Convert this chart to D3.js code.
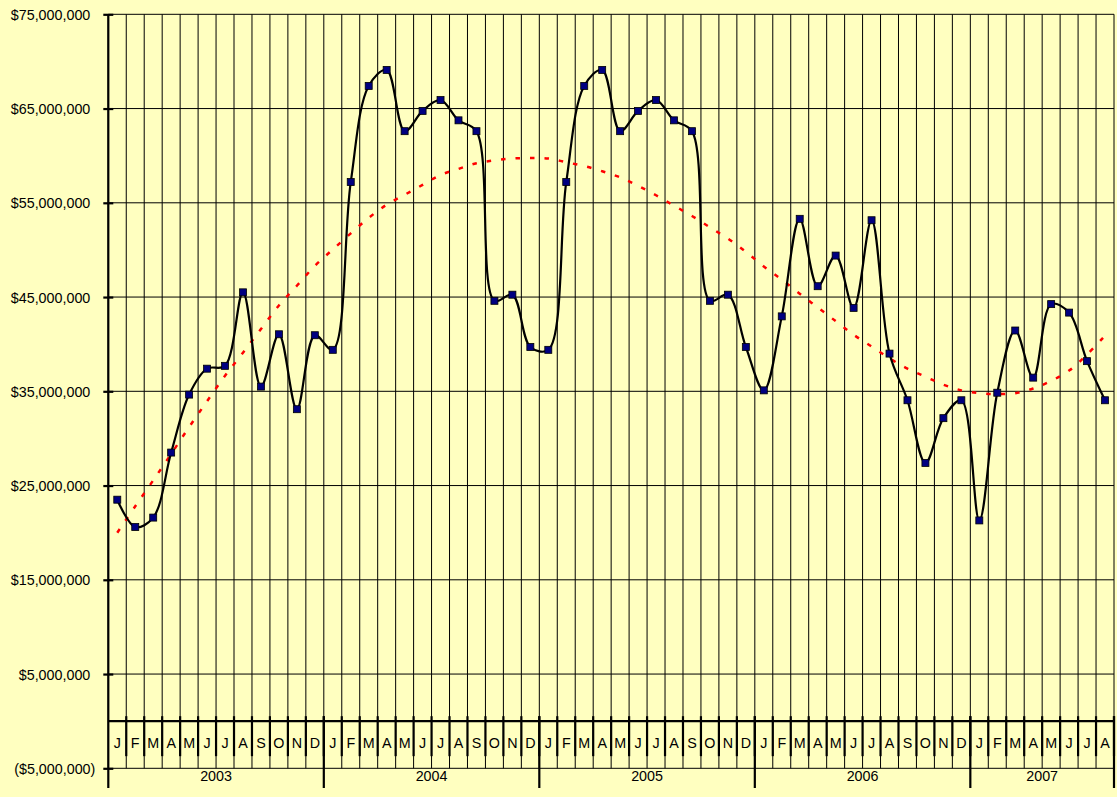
<!DOCTYPE html>
<html>
<head>
<meta charset="utf-8">
<script src="https://cdn.jsdelivr.net/npm/d3@7"></script>
<style>
  body { margin: 0; background: #FFFFC0; }
  text { font-family: "Liberation Sans", Arial, sans-serif; font-size: 14.3px; fill: #000; }
</style>
</head>
<body>
<div id="chart"></div>
<script>
// month letters and years on the category axis
var monthLetters = ["J", "F", "M", "A", "M", "J", "J", "A", "S", "O", "N", "D"];
var years = [2003, 2004, 2005, 2006, 2007];
var monthsPerYear = [12, 12, 12, 12, 8];

// monthly values, millions of dollars
var values2003 = [23.5, 20.6, 21.6, 28.5, 34.65, 37.4, 37.7, 45.5, 35.5, 41.05, 33.1, 40.95];
var values2004 = [39.4, 57.2, 67.4, 69.1, 62.6, 64.75, 65.9, 63.75, 62.6, 44.6, 45.25, 39.7];
var values2005 = [39.4, 57.2, 67.4, 69.1, 62.6, 64.75, 65.9, 63.75, 62.6, 44.6, 45.25, 39.7];
var values2006 = [35.1, 42.95, 53.3, 46.15, 49.4, 43.85, 53.15, 39.0, 34.05, 27.4, 32.15, 34.05];
var values2007 = [21.3, 34.85, 41.45, 36.45, 44.25, 43.35, 38.2, 34.05];

// trend line (red dotted), millions of dollars
var trend2003 = [20.0, 22.8, 25.55, 28.35, 31.2, 33.95, 36.65, 39.1, 41.6, 44.1, 46.2, 48.3];
var trend2004 = [50.05, 51.75, 53.4, 54.8, 55.85, 56.9, 57.95, 58.6, 59.2, 59.5, 59.7, 59.75];
var trend2005 = [59.7, 59.3, 58.9, 58.35, 57.7, 56.8, 55.8, 54.7, 53.6, 52.4, 51.2, 49.8];
var trend2006 = [48.25, 46.85, 45.35, 43.9, 42.45, 41.0, 39.75, 38.5, 37.4, 36.55, 35.7, 35.1];
var trend2007 = [34.8, 34.7, 34.8, 35.3, 36.1, 37.2, 38.9, 40.9];

// y tick values, millions
var yTicks = [-5, 5, 15, 25, 35, 45, 55, 65, 75];

var values = [].concat(values2003, values2004, values2005, values2006, values2007);
var trend = [].concat(trend2003, trend2004, trend2005, trend2006, trend2007);

// one entry per month
var months = [];
years.forEach(function(yr, j) {
  for (var m = 0; m < monthsPerYear[j]; m++) {
    months.push({ key: yr + "-" + m, year: yr, letter: monthLetters[m] });
  }
});
months.forEach(function(d, i) {
  d.value = values[i] * 1e6;
  d.trend = trend[i] * 1e6;
});

var svgWidth = 1117;
var svgHeight = 797;

// plot area edges
var plotLeft = 108.3, plotRight = 1114, plotTop = 14.3, plotBottom = 768.3;

var svg = d3.select("#chart")
  .append("svg")
  .attr("width", svgWidth)
  .attr("height", svgHeight);

svg.append("rect")
  .attr("width", svgWidth)
  .attr("height", svgHeight)
  .attr("fill", "#FFFFC0");

// scales
var xScale = d3.scaleBand()
  .domain(months.map(d => d.key))
  .range([plotLeft, plotRight])
  .padding(0);

var yScale = d3.scaleLinear()
  .domain([-5e6, 75e6])
  .range([plotBottom, plotTop]);

var step = xScale.step();
var zeroY = yScale(0);

// horizontal gridlines
svg.append("g")
  .selectAll("line")
  .data(yTicks)
  .enter()
  .append("line")
  .attr("x1", plotLeft)
  .attr("x2", plotRight)
  .attr("y1", d => yScale(d * 1e6))
  .attr("y2", d => yScale(d * 1e6))
  .attr("stroke", "#000")
  .attr("stroke-width", 1);

// vertical gridlines at month boundaries
var boundaries = months.map(d => xScale(d.key)).concat([plotRight]);
svg.append("g")
  .selectAll("line")
  .data(boundaries)
  .enter()
  .append("line")
  .attr("x1", d => d)
  .attr("x2", d => d)
  .attr("y1", plotTop)
  .attr("y2", plotBottom)
  .attr("stroke", "#000")
  .attr("stroke-width", 1);

// y axis
var yAxis = d3.axisLeft(yScale)
  .tickValues(yTicks.map(d => d * 1e6))
  .tickSize(0)
  .tickFormat("");

var yAxisG = svg.append("g")
  .attr("transform", `translate(${plotLeft}, 0)`)
  .call(yAxis);
yAxisG.select(".domain").remove();

svg.append("line")
  .attr("x1", plotLeft).attr("x2", plotLeft)
  .attr("y1", plotTop).attr("y2", 788)
  .attr("stroke", "#000")
  .attr("stroke-width", 2.2);

yAxisG.selectAll(".tick")
  .append("line")
  .attr("x1", -5)
  .attr("x2", 5)
  .attr("stroke", "#000")
  .attr("stroke-width", 2.2);

yAxisG.selectAll(".tick")
  .append("text")
  .attr("x", d => d < 0 ? -13 : -18)
  .attr("dy", "0.35em")
  .attr("text-anchor", "end")
  .text(function(d) {
    var s = "$" + d3.format(",")(Math.abs(d));
    return d < 0 ? "(" + s + ")" : s;
  });

// category axis at zero
svg.append("line")
  .attr("x1", plotLeft).attr("x2", plotRight)
  .attr("y1", zeroY).attr("y2", zeroY)
  .attr("stroke", "#000")
  .attr("stroke-width", 2.2);

svg.append("g")
  .selectAll("line")
  .data(boundaries.slice(1))
  .enter()
  .append("line")
  .attr("x1", d => d)
  .attr("x2", d => d)
  .attr("y1", zeroY - 5)
  .attr("y2", zeroY + 35)
  .attr("stroke", "#000")
  .attr("stroke-width", 2.2);

// month letters
svg.append("g")
  .selectAll("text")
  .data(months)
  .enter()
  .append("text")
  .attr("x", d => xScale(d.key) + step / 2)
  .attr("y", 748)
  .attr("text-anchor", "middle")
  .text(d => d.letter);

// year separators and labels
var yearSpans = [];
var start = 0;
years.forEach(function(yr, j) {
  var x0 = xScale(months[start].key);
  var endIdx = start + monthsPerYear[j];
  var x1 = endIdx < months.length ? xScale(months[endIdx].key) : plotRight;
  yearSpans.push({ year: yr, x0: x0, x1: x1 });
  start = endIdx;
});

svg.append("g")
  .selectAll("line")
  .data(yearSpans)
  .enter()
  .append("line")
  .attr("x1", d => d.x1)
  .attr("x2", d => d.x1)
  .attr("y1", zeroY - 5)
  .attr("y2", 788)
  .attr("stroke", "#000")
  .attr("stroke-width", 2.2);

svg.append("g")
  .selectAll("text")
  .data(yearSpans)
  .enter()
  .append("text")
  .attr("x", d => (d.x0 + d.x1) / 2)
  .attr("y", 781)
  .attr("text-anchor", "middle")
  .text(d => d.year);

// trend line
var trendLine = d3.line()
  .x(d => xScale(d.key) + step / 2)
  .y(d => yScale(d.trend))
  .curve(d3.curveCatmullRom);

svg.append("path")
  .datum(months)
  .attr("d", trendLine)
  .attr("fill", "none")
  .attr("stroke", "#FF0000")
  .attr("stroke-width", 2.5)
  .attr("stroke-dasharray", "4.5,10");

// smoothed value line
var valueLine = d3.line()
  .x(d => xScale(d.key) + step / 2)
  .y(d => yScale(d.value))
  .curve(d3.curveCatmullRom.alpha(0.5));

svg.append("path")
  .datum(months)
  .attr("d", valueLine)
  .attr("fill", "none")
  .attr("stroke", "#000")
  .attr("stroke-width", 2.2);

// square markers
svg.append("g")
  .selectAll("rect")
  .data(months)
  .enter()
  .append("rect")
  .attr("x", d => xScale(d.key) + step / 2 - 3.5)
  .attr("y", d => yScale(d.value) - 3.5)
  .attr("width", 7)
  .attr("height", 7)
  .attr("fill", "#000080")
  .attr("stroke", "#000")
  .attr("stroke-width", 0.8);
</script>
</body>
</html>
